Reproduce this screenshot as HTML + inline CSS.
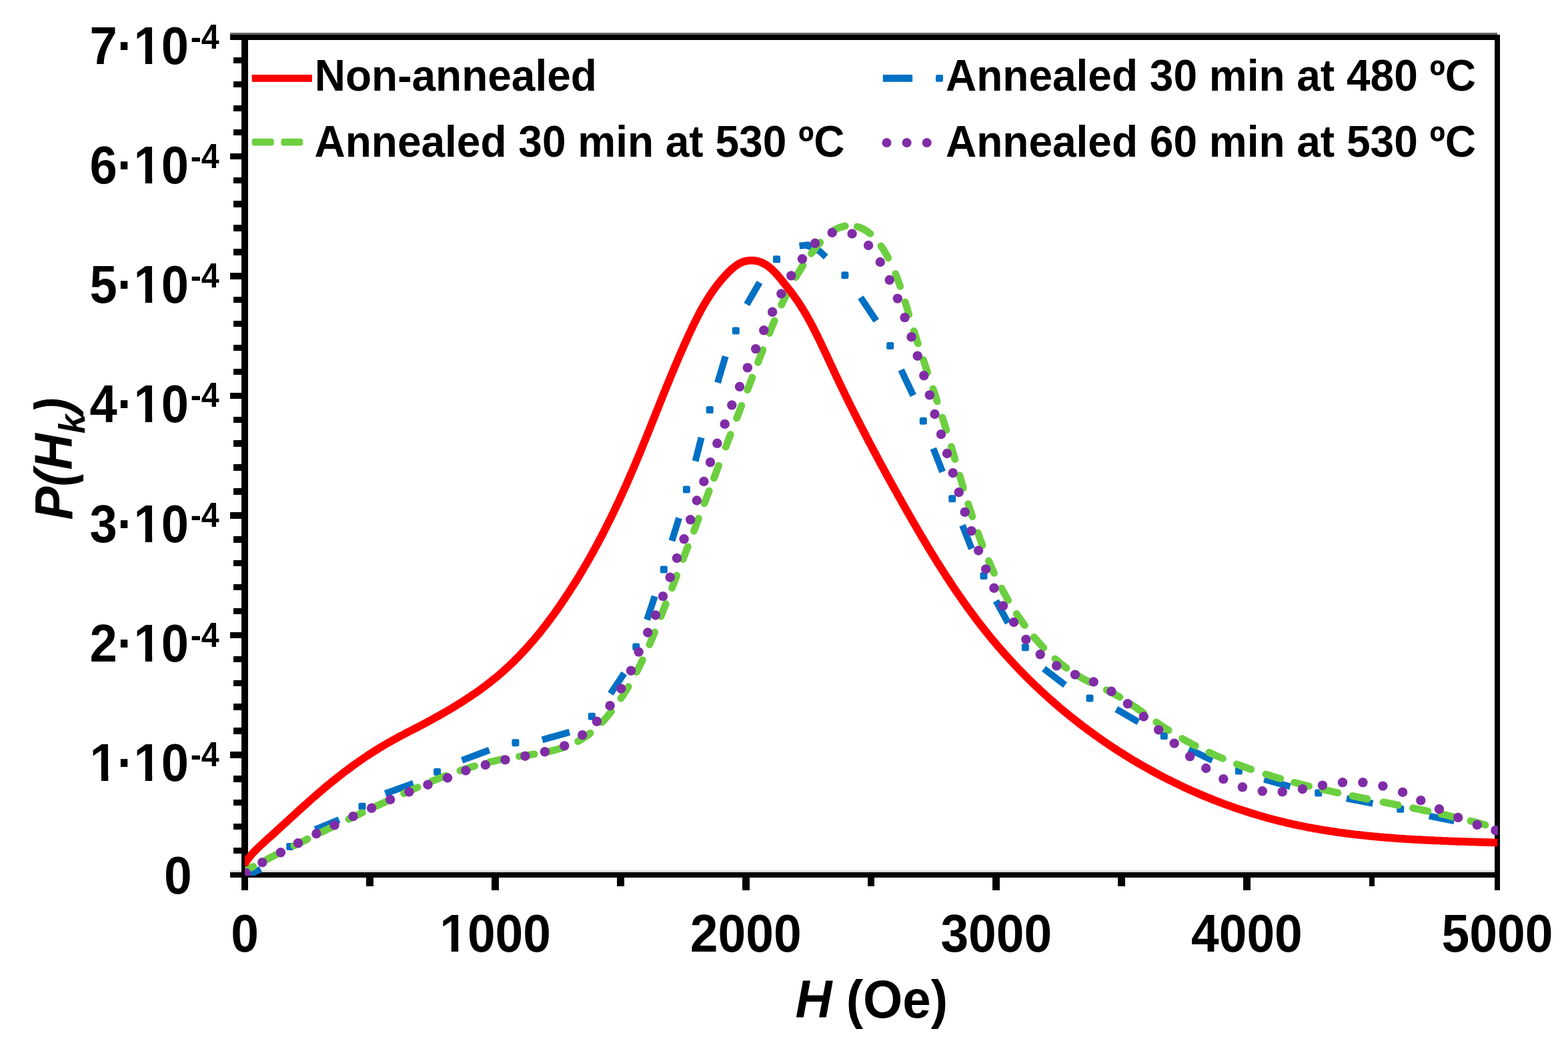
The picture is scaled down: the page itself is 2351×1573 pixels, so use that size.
<!DOCTYPE html>
<html lang="en"><head><meta charset="utf-8"><title>P(Hk) vs H</title>
<style>html,body{margin:0;padding:0;background:#fff}body{width:2351px;height:1573px;overflow:hidden}svg{display:block}text{font-family:"Liberation Sans",sans-serif;font-weight:bold;fill:#000}</style>
</head><body>
<svg width="2351" height="1573" viewBox="0 0 2351 1573">
<rect width="2351" height="1573" fill="#fff"/>
<g id="frame" fill="#000" shape-rendering="crispEdges">
<rect x="345" y="49" width="1900" height="4" fill="#666"/>
<rect x="345" y="52" width="1904" height="8"/>
<rect x="345" y="1305" width="1896" height="4" fill="#ddd"/>
<rect x="345" y="1308" width="1904" height="8"/>
<rect x="361.5" y="52" width="10.5" height="1283"/>
<rect x="2241" y="52" width="8" height="1283"/>
<rect x="350.3" y="1270.8" width="12" height="9.4"/>
<rect x="350.3" y="1234.9" width="12" height="9.4"/>
<rect x="350.3" y="1199.0" width="12" height="9.4"/>
<rect x="350.3" y="1163.1" width="12" height="9.4"/>
<rect x="350.3" y="1091.3" width="12" height="9.4"/>
<rect x="350.3" y="1055.4" width="12" height="9.4"/>
<rect x="350.3" y="1019.5" width="12" height="9.4"/>
<rect x="350.3" y="983.6" width="12" height="9.4"/>
<rect x="350.3" y="911.8" width="12" height="9.4"/>
<rect x="350.3" y="875.9" width="12" height="9.4"/>
<rect x="350.3" y="840.0" width="12" height="9.4"/>
<rect x="350.3" y="804.1" width="12" height="9.4"/>
<rect x="350.3" y="732.3" width="12" height="9.4"/>
<rect x="350.3" y="696.4" width="12" height="9.4"/>
<rect x="350.3" y="660.4" width="12" height="9.4"/>
<rect x="350.3" y="624.5" width="12" height="9.4"/>
<rect x="350.3" y="552.7" width="12" height="9.4"/>
<rect x="350.3" y="516.8" width="12" height="9.4"/>
<rect x="350.3" y="480.9" width="12" height="9.4"/>
<rect x="350.3" y="445.0" width="12" height="9.4"/>
<rect x="350.3" y="373.2" width="12" height="9.4"/>
<rect x="350.3" y="337.3" width="12" height="9.4"/>
<rect x="350.3" y="301.4" width="12" height="9.4"/>
<rect x="350.3" y="265.5" width="12" height="9.4"/>
<rect x="350.3" y="193.7" width="12" height="9.4"/>
<rect x="350.3" y="157.8" width="12" height="9.4"/>
<rect x="350.3" y="121.9" width="12" height="9.4"/>
<rect x="350.3" y="86.0" width="12" height="9.4"/>
<rect x="345" y="1127.1" width="18" height="9.6"/>
<rect x="345" y="947.6" width="18" height="9.6"/>
<rect x="345" y="768.1" width="18" height="9.6"/>
<rect x="345" y="588.5" width="18" height="9.6"/>
<rect x="345" y="409.0" width="18" height="9.6"/>
<rect x="345" y="229.5" width="18" height="9.6"/>
<rect x="549.4" y="1315" width="10.8" height="14.3"/>
<rect x="737.2" y="1315" width="10.8" height="20"/>
<rect x="925.0" y="1315" width="10.8" height="14.3"/>
<rect x="1112.8" y="1315" width="10.8" height="20"/>
<rect x="1300.6" y="1315" width="10.8" height="14.3"/>
<rect x="1488.4" y="1315" width="10.8" height="20"/>
<rect x="1676.2" y="1315" width="10.8" height="14.3"/>
<rect x="1864.0" y="1315" width="10.8" height="20"/>
<rect x="2053.0" y="1315" width="8.4" height="14.3"/>
</g>
<defs><clipPath id="plotclip"><rect x="367" y="56" width="1879" height="1257"/></clipPath></defs>
<g id="curves" fill="none" clip-path="url(#plotclip)">
<g id="blue" stroke="#0070C4" stroke-width="10" stroke-linejoin="round" fill="#0070C4">
<path d="M367.0,1314.0 L391.0,1303.5"/>
<path d="M472.6,1243.8 L508.5,1229.2"/>
<path d="M577.6,1190.0 L619.8,1174.7"/>
<path d="M692.7,1140.1 L733.7,1124.8"/>
<path d="M813.0,1109.4 L854.0,1097.9"/>
<path d="M915.4,1040.3 L935.9,1009.6"/>
<path d="M970.1,929.3 L981.8,894.1"/>
<path d="M1007.4,810.9 L1018.1,776.8"/>
<path d="M1042.6,691.5 L1051.6,656.3"/>
<path d="M1076.0,573.8 L1087.7,534.4"/>
<path d="M1119.7,456.5 L1138.9,423.5"/>
<path d="M1198.6,368.8 L1211.0,367.2 L1221.0,370.6 L1230.0,377.6 L1238.3,385.3"/>
<path d="M1290.4,445.9 L1313.8,481.0"/>
<path d="M1351.1,554.6 L1369.3,593.0"/>
<path d="M1399.3,672.5 L1413.2,707.7"/>
<path d="M1443.0,787.7 L1456.9,822.9"/>
<path d="M1493.3,901.0 L1511.5,934.0"/>
<path d="M1565.1,1002.7 L1597.0,1027.2"/>
<path d="M1673.8,1063.4 L1706.9,1082.6"/>
<path d="M1782.6,1123.2 L1817.8,1140.2"/>
<path d="M1895.4,1168.6 L1934.5,1179.5"/>
<path d="M2019.0,1197.3 L2058.4,1204.8"/>
<path d="M2142.9,1223.6 L2180.4,1231.1"/>
<rect x="429.2" y="1263.9" width="11" height="11" rx="2.5" stroke="none"/>
<rect x="537.5" y="1203.7" width="11" height="11" rx="2.5" stroke="none"/>
<rect x="650.1" y="1152.0" width="11" height="11" rx="2.5" stroke="none"/>
<rect x="767.4" y="1108.3" width="11" height="11" rx="2.5" stroke="none"/>
<rect x="881.8" y="1068.8" width="11" height="11" rx="2.5" stroke="none"/>
<rect x="948.3" y="964.4" width="11" height="11" rx="2.5" stroke="none"/>
<rect x="989.8" y="848.5" width="11" height="11" rx="2.5" stroke="none"/>
<rect x="1023.9" y="728.6" width="11" height="11" rx="2.5" stroke="none"/>
<rect x="1058.7" y="608.9" width="11" height="11" rx="2.5" stroke="none"/>
<rect x="1097.8" y="490.5" width="11" height="11" rx="2.5" stroke="none"/>
<rect x="1159.0" y="383.2" width="11" height="11" rx="2.5" stroke="none"/>
<rect x="1261.4" y="407.3" width="11" height="11" rx="2.5" stroke="none"/>
<rect x="1329.2" y="512.9" width="11" height="11" rx="2.5" stroke="none"/>
<rect x="1378.8" y="625.8" width="11" height="11" rx="2.5" stroke="none"/>
<rect x="1422.2" y="742.3" width="11" height="11" rx="2.5" stroke="none"/>
<rect x="1469.5" y="857.9" width="11" height="11" rx="2.5" stroke="none"/>
<rect x="1531.8" y="965.2" width="11" height="11" rx="2.5" stroke="none"/>
<rect x="1628.5" y="1041.5" width="11" height="11" rx="2.5" stroke="none"/>
<rect x="1739.8" y="1098.0" width="11" height="11" rx="2.5" stroke="none"/>
<rect x="1851.9" y="1150.6" width="11" height="11" rx="2.5" stroke="none"/>
<rect x="1971.2" y="1183.4" width="11" height="11" rx="2.5" stroke="none"/>
<rect x="2094.2" y="1207.8" width="11" height="11" rx="2.5" stroke="none"/>
</g>
<g id="green" stroke="#6CCF40" stroke-width="10.8" stroke-linecap="round">
<path d="M367.6,1305.7 L368.4,1305.3 L373.5,1302.6 L378.7,1299.9 L379.7,1299.4"/>
<path d="M400.2,1288.7 L400.9,1288.4 L406.0,1285.8 L411.1,1283.1 L416.3,1280.5 L420.3,1278.5"/>
<path d="M440.9,1268.1 L441.2,1268.0 L446.4,1265.4 L451.6,1262.8 L456.8,1260.3 L461.1,1258.1"/>
<path d="M481.8,1248.0 L481.9,1248.0 L487.1,1245.4 L492.3,1242.9 L497.5,1240.4 L502.1,1238.2"/>
<path d="M522.9,1228.3 L523.6,1227.9 L528.9,1225.4 L534.1,1223.0 L539.3,1220.5 L543.3,1218.6"/>
<path d="M564.2,1208.9 L564.7,1208.6 L569.9,1206.2 L575.1,1203.8 L580.4,1201.3 L584.6,1199.4"/>
<path d="M605.5,1189.8 L605.8,1189.7 L611.0,1187.3 L616.3,1184.9 L621.6,1182.6 L626.2,1180.6"/>
<path d="M647.3,1171.6 L648.1,1171.3 L653.4,1169.1 L658.8,1167.0 L664.2,1164.9 L668.4,1163.3"/>
<path d="M689.9,1155.5 L690.3,1155.4 L695.8,1153.6 L701.3,1151.8 L706.8,1150.1 L711.7,1148.7"/>
<path d="M733.6,1142.8 L733.8,1142.7 L739.4,1141.4 L745.1,1140.2 L750.8,1139.0 L756.0,1138.0"/>
<path d="M778.4,1134.3 L778.8,1134.2 L784.6,1133.4 L790.4,1132.5 L796.2,1131.6 L801.1,1130.9"/>
<path d="M823.4,1126.7 L823.9,1126.6 L829.5,1125.3 L835.0,1123.9 L840.5,1122.3 L845.4,1120.7"/>
<path d="M866.6,1111.7 L867.3,1111.3 L872.2,1108.5 L876.9,1105.4 L881.6,1102.1 L885.1,1099.4"/>
<path d="M902.5,1083.2 L903.0,1082.7 L907.0,1078.4 L910.8,1073.9 L914.6,1069.4 L916.5,1067.0"/>
<path d="M931.0,1047.3 L931.3,1046.8 L934.5,1042.0 L937.6,1037.1 L940.7,1032.2 L942.2,1029.7"/>
<path d="M954.3,1007.9 L954.7,1007.2 L957.3,1002.0 L959.9,996.9 L962.4,991.7 L963.4,989.6"/>
<path d="M973.8,966.6 L973.9,966.4 L976.1,961.1 L978.4,955.8 L980.5,950.4 L981.6,947.9"/>
<path d="M991.0,924.3 L991.2,923.6 L993.3,918.2 L995.4,912.8 L997.5,907.4 L998.3,905.5"/>
<path d="M1007.5,881.8 L1007.6,881.4 L1009.7,876.0 L1011.8,870.6 L1013.9,865.2 L1014.7,863.0"/>
<path d="M1024.1,838.6 L1024.2,838.2 L1026.3,832.8 L1028.4,827.4 L1030.4,822.0 L1031.3,819.8"/>
<path d="M1040.3,796.3 L1040.4,795.9 L1042.5,790.5 L1044.6,785.1 L1046.6,779.7 L1047.4,777.5"/>
<path d="M1056.1,754.9 L1056.2,754.5 L1058.3,749.1 L1060.3,743.7 L1062.4,738.3 L1063.2,736.1"/>
<path d="M1070.4,717.0 L1070.6,716.6 L1072.6,711.2 L1074.7,705.8 L1076.8,700.4 L1077.6,698.2"/>
<path d="M1088.2,670.2 L1088.4,669.8 L1090.4,664.4 L1092.5,659.0 L1094.5,653.6 L1095.4,651.4"/>
<path d="M1104.6,627.0 L1104.8,626.6 L1106.9,621.2 L1108.9,615.8 L1111.0,610.4 L1111.8,608.2"/>
<path d="M1120.7,584.7 L1120.9,584.3 L1123.0,578.9 L1125.0,573.6 L1127.1,568.2 L1127.9,566.0"/>
<path d="M1136.5,543.4 L1136.7,543.0 L1138.8,537.6 L1140.8,532.2 L1142.9,526.9 L1143.8,524.6"/>
<path d="M1153.6,499.6 L1153.7,499.1 L1155.9,493.8 L1158.1,488.4 L1160.3,483.1 L1161.2,480.9"/>
<path d="M1171.7,457.2 L1171.9,456.6 L1174.4,451.4 L1176.9,446.2 L1179.5,441.0 L1180.6,438.7"/>
<path d="M1193.1,415.8 L1193.4,415.3 L1196.4,410.2 L1199.5,405.2 L1202.6,400.2 L1204.0,398.1"/>
<path d="M1216.5,380.2 L1216.9,379.7 L1220.5,374.9 L1224.3,370.1 L1228.2,365.5 L1229.9,363.5"/>
<path d="M1246.6,348.0 L1247.1,347.6 L1251.7,344.7 L1256.3,342.2 L1261.1,340.4 L1266.1,339.1 L1267.1,338.9"/>
<path d="M1285.3,339.9 L1286.2,340.1 L1291.0,341.8 L1295.7,344.1 L1300.2,346.9 L1304.5,350.2 L1304.9,350.5"/>
<path d="M1321.1,368.9 L1321.1,369.0 L1324.5,374.1 L1327.7,379.5 L1330.8,385.0 L1331.7,386.8"/>
<path d="M1342.7,410.6 L1343.0,411.5 L1345.3,417.2 L1347.4,422.8 L1349.3,428.4 L1349.7,429.4"/>
<path d="M1357.2,452.9 L1357.3,453.2 L1359.0,458.7 L1360.6,464.2 L1362.2,469.6 L1362.8,471.8"/>
<path d="M1370.3,496.3 L1370.4,496.7 L1372.2,502.1 L1373.9,507.5 L1375.6,513.0 L1376.4,515.2"/>
<path d="M1384.4,539.5 L1384.5,540.0 L1386.3,545.4 L1388.1,550.8 L1390.0,556.2 L1390.7,558.4"/>
<path d="M1398.9,583.0 L1399.1,583.4 L1400.9,588.8 L1402.7,594.3 L1404.5,599.7 L1405.2,601.9"/>
<path d="M1413.0,626.0 L1413.1,626.3 L1414.8,631.8 L1416.5,637.4 L1418.2,642.9 L1418.9,645.0"/>
<path d="M1426.3,669.7 L1426.3,669.9 L1428.0,675.5 L1429.6,681.1 L1431.2,686.7 L1431.8,688.7"/>
<path d="M1438.9,712.8 L1438.9,712.9 L1440.6,718.6 L1442.2,724.2 L1443.9,729.8 L1444.5,731.8"/>
<path d="M1451.8,755.7 L1451.9,755.9 L1453.6,761.5 L1455.4,767.0 L1457.2,772.6 L1457.9,774.6"/>
<path d="M1466.1,798.9 L1466.3,799.2 L1468.2,804.7 L1470.2,810.1 L1472.2,815.5 L1473.1,817.7"/>
<path d="M1482.4,840.9 L1482.6,841.4 L1484.9,846.7 L1487.2,851.9 L1489.5,857.2 L1490.6,859.4"/>
<path d="M1501.7,882.1 L1502.1,882.8 L1504.8,887.9 L1507.5,892.9 L1510.3,897.8 L1511.7,900.2"/>
<path d="M1524.2,920.4 L1524.2,920.4 L1527.4,925.2 L1530.7,929.9 L1534.0,934.5 L1536.3,937.6"/>
<path d="M1550.4,955.4 L1550.5,955.6 L1554.3,959.9 L1558.1,964.2 L1562.0,968.5 L1564.8,971.4"/>
<path d="M1582.0,987.9 L1582.2,988.1 L1586.7,991.9 L1591.2,995.6 L1595.8,999.3 L1599.1,1001.8"/>
<path d="M1614.4,1012.2 L1614.9,1012.5 L1619.9,1015.4 L1624.9,1018.3 L1630.1,1021.0 L1634.1,1022.9"/>
<path d="M1659.1,1034.7 L1659.7,1035.0 L1664.9,1037.6 L1670.0,1040.2 L1675.0,1043.0 L1678.9,1045.3"/>
<path d="M1696.6,1056.6 L1697.0,1056.9 L1701.8,1060.1 L1706.5,1063.5 L1711.3,1066.8 L1714.8,1069.3"/>
<path d="M1733.7,1082.8 L1734.1,1083.1 L1738.9,1086.4 L1743.7,1089.7 L1748.5,1092.9 L1752.2,1095.2"/>
<path d="M1772.6,1107.5 L1773.2,1107.9 L1778.2,1110.7 L1783.3,1113.5 L1788.4,1116.2 L1792.4,1118.3"/>
<path d="M1812.7,1128.2 L1813.4,1128.5 L1818.6,1130.9 L1823.9,1133.3 L1829.2,1135.6 L1833.4,1137.4"/>
<path d="M1854.3,1145.8 L1855.0,1146.1 L1860.4,1148.1 L1865.9,1150.1 L1871.3,1152.1 L1875.7,1153.6"/>
<path d="M1897.9,1161.0 L1898.7,1161.2 L1904.2,1162.9 L1909.8,1164.6 L1915.3,1166.3 L1919.8,1167.6"/>
<path d="M1940.4,1173.3 L1941.3,1173.5 L1946.8,1174.9 L1952.4,1176.4 L1958.0,1177.8 L1962.6,1178.9"/>
<path d="M1983.4,1183.9 L1984.2,1184.0 L1989.9,1185.3 L1995.5,1186.6 L2001.2,1187.8 L2005.8,1188.8"/>
<path d="M2027.7,1193.5 L2028.5,1193.6 L2034.2,1194.8 L2039.8,1196.0 L2045.5,1197.1 L2050.1,1198.1"/>
<path d="M2074.0,1202.8 L2074.8,1203.0 L2080.5,1204.1 L2086.2,1205.2 L2091.8,1206.4 L2096.5,1207.3"/>
<path d="M2118.4,1211.7 L2119.3,1211.9 L2124.9,1213.0 L2130.6,1214.2 L2136.3,1215.4 L2140.9,1216.3"/>
<path d="M2160.9,1220.7 L2161.7,1220.8 L2167.3,1222.1 L2173.0,1223.4 L2178.6,1224.7 L2183.2,1225.7"/>
<path d="M2204.9,1231.0 L2205.7,1231.3 L2211.3,1232.7 L2216.9,1234.2 L2222.5,1235.6 L2227.0,1236.9"/>
</g>
<g id="purple" fill="#802CA7">
<circle cx="369.0" cy="1309.0" r="7.2"/>
<circle cx="393.3" cy="1293.2" r="7.2"/>
<circle cx="420.9" cy="1278.3" r="7.2"/>
<circle cx="447.0" cy="1264.3" r="7.2"/>
<circle cx="474.4" cy="1250.2" r="7.2"/>
<circle cx="501.5" cy="1237.4" r="7.2"/>
<circle cx="529.4" cy="1224.1" r="7.2"/>
<circle cx="557.1" cy="1211.8" r="7.2"/>
<circle cx="585.2" cy="1199.0" r="7.2"/>
<circle cx="613.4" cy="1187.5" r="7.2"/>
<circle cx="641.5" cy="1176.7" r="7.2"/>
<circle cx="671.0" cy="1166.5" r="7.2"/>
<circle cx="698.4" cy="1155.5" r="7.2"/>
<circle cx="727.8" cy="1147.0" r="7.2"/>
<circle cx="757.5" cy="1139.4" r="7.2"/>
<circle cx="787.4" cy="1133.7" r="7.2"/>
<circle cx="816.9" cy="1127.3" r="7.2"/>
<circle cx="846.3" cy="1118.4" r="7.2"/>
<circle cx="873.2" cy="1102.2" r="7.2"/>
<circle cx="894.9" cy="1081.8" r="7.2"/>
<circle cx="914.6" cy="1058.2" r="7.2"/>
<circle cx="931.3" cy="1032.6" r="7.2"/>
<circle cx="946.1" cy="1005.7" r="7.2"/>
<circle cx="957.7" cy="977.6" r="7.2"/>
<circle cx="971.2" cy="948.5" r="7.2"/>
<circle cx="982.9" cy="922.5" r="7.2"/>
<circle cx="994.0" cy="894.1" r="7.2"/>
<circle cx="1004.7" cy="865.7" r="7.2"/>
<circle cx="1014.9" cy="836.9" r="7.2"/>
<circle cx="1025.6" cy="808.3" r="7.2"/>
<circle cx="1035.2" cy="779.3" r="7.2"/>
<circle cx="1044.8" cy="750.5" r="7.2"/>
<circle cx="1055.4" cy="722.0" r="7.2"/>
<circle cx="1065.0" cy="693.2" r="7.2"/>
<circle cx="1075.3" cy="664.8" r="7.2"/>
<circle cx="1086.7" cy="635.9" r="7.2"/>
<circle cx="1097.3" cy="607.5" r="7.2"/>
<circle cx="1109.0" cy="579.8" r="7.2"/>
<circle cx="1120.8" cy="551.4" r="7.2"/>
<circle cx="1133.1" cy="523.1" r="7.2"/>
<circle cx="1145.3" cy="495.3" r="7.2"/>
<circle cx="1158.1" cy="467.8" r="7.2"/>
<circle cx="1171.3" cy="440.5" r="7.2"/>
<circle cx="1186.3" cy="413.4" r="7.2"/>
<circle cx="1202.9" cy="388.3" r="7.2"/>
<circle cx="1222.1" cy="364.8" r="7.2"/>
<circle cx="1247.7" cy="348.8" r="7.2"/>
<circle cx="1277.6" cy="350.5" r="7.2"/>
<circle cx="1302.1" cy="368.0" r="7.2"/>
<circle cx="1319.8" cy="393.0" r="7.2"/>
<circle cx="1333.7" cy="419.8" r="7.2"/>
<circle cx="1345.8" cy="447.6" r="7.2"/>
<circle cx="1356.5" cy="476.1" r="7.2"/>
<circle cx="1366.5" cy="505.2" r="7.2"/>
<circle cx="1375.7" cy="533.7" r="7.2"/>
<circle cx="1385.3" cy="563.2" r="7.2"/>
<circle cx="1393.8" cy="592.4" r="7.2"/>
<circle cx="1401.5" cy="621.0" r="7.2"/>
<circle cx="1411.0" cy="651.2" r="7.2"/>
<circle cx="1420.0" cy="680.0" r="7.2"/>
<circle cx="1428.8" cy="709.2" r="7.2"/>
<circle cx="1437.7" cy="738.2" r="7.2"/>
<circle cx="1446.7" cy="767.9" r="7.2"/>
<circle cx="1456.5" cy="796.2" r="7.2"/>
<circle cx="1467.1" cy="825.5" r="7.2"/>
<circle cx="1478.2" cy="853.4" r="7.2"/>
<circle cx="1490.4" cy="881.8" r="7.2"/>
<circle cx="1504.0" cy="908.5" r="7.2"/>
<circle cx="1520.0" cy="933.0" r="7.2"/>
<circle cx="1538.4" cy="958.9" r="7.2"/>
<circle cx="1559.7" cy="981.3" r="7.2"/>
<circle cx="1584.2" cy="998.4" r="7.2"/>
<circle cx="1612.0" cy="1011.6" r="7.2"/>
<circle cx="1639.7" cy="1022.5" r="7.2"/>
<circle cx="1666.4" cy="1036.8" r="7.2"/>
<circle cx="1690.9" cy="1055.3" r="7.2"/>
<circle cx="1714.8" cy="1074.5" r="7.2"/>
<circle cx="1737.2" cy="1094.4" r="7.2"/>
<circle cx="1760.7" cy="1114.6" r="7.2"/>
<circle cx="1784.1" cy="1134.3" r="7.2"/>
<circle cx="1808.2" cy="1152.0" r="7.2"/>
<circle cx="1834.3" cy="1168.1" r="7.2"/>
<circle cx="1862.9" cy="1180.3" r="7.2"/>
<circle cx="1892.8" cy="1186.3" r="7.2"/>
<circle cx="1922.7" cy="1187.4" r="7.2"/>
<circle cx="1952.9" cy="1183.2" r="7.2"/>
<circle cx="1982.9" cy="1177.6" r="7.2"/>
<circle cx="2013.0" cy="1173.3" r="7.2"/>
<circle cx="2043.4" cy="1173.3" r="7.2"/>
<circle cx="2073.4" cy="1178.6" r="7.2"/>
<circle cx="2103.1" cy="1187.9" r="7.2"/>
<circle cx="2130.3" cy="1200.1" r="7.2"/>
<circle cx="2157.9" cy="1213.3" r="7.2"/>
<circle cx="2186.1" cy="1225.9" r="7.2"/>
<circle cx="2214.8" cy="1236.8" r="7.2"/>
<circle cx="2242.4" cy="1245.2" r="7.2"/>
</g>
<path id="red" d="M366.1,1296.6 L368.3,1293.2 L370.5,1289.8 L372.9,1286.7 L375.4,1283.6 L377.9,1280.6 L380.6,1277.7 L383.3,1274.9 L386.1,1272.1 L388.9,1269.4 L391.8,1266.7 L394.7,1264.1 L397.6,1261.5 L400.5,1258.8 L403.4,1256.2 L406.4,1253.6 L409.3,1250.9 L412.2,1248.3 L415.1,1245.7 L418.0,1243.0 L420.9,1240.3 L423.8,1237.7 L426.7,1235.0 L429.6,1232.4 L432.5,1229.7 L435.4,1227.0 L438.3,1224.4 L441.2,1221.7 L444.1,1219.1 L447.0,1216.4 L449.9,1213.8 L452.8,1211.1 L455.8,1208.5 L458.7,1205.9 L461.6,1203.2 L464.6,1200.6 L467.5,1198.0 L470.5,1195.4 L473.4,1192.8 L476.4,1190.2 L479.4,1187.7 L482.4,1185.1 L485.4,1182.6 L488.4,1180.0 L491.4,1177.5 L494.5,1175.0 L497.5,1172.5 L500.6,1170.1 L503.7,1167.6 L506.8,1165.2 L509.9,1162.7 L513.0,1160.3 L516.1,1157.9 L519.2,1155.6 L522.4,1153.2 L525.6,1150.9 L528.7,1148.5 L531.9,1146.2 L535.1,1144.0 L538.3,1141.7 L541.6,1139.5 L544.8,1137.2 L548.1,1135.0 L551.3,1132.9 L554.6,1130.7 L557.9,1128.6 L561.2,1126.4 L564.6,1124.4 L567.9,1122.3 L571.3,1120.2 L574.6,1118.2 L578.0,1116.2 L581.4,1114.2 L584.8,1112.3 L588.3,1110.4 L591.7,1108.5 L595.2,1106.6 L598.6,1104.7 L602.1,1102.9 L605.6,1101.1 L609.1,1099.2 L612.6,1097.4 L616.1,1095.6 L619.6,1093.8 L623.1,1092.0 L626.6,1090.2 L630.1,1088.4 L633.6,1086.5 L637.1,1084.7 L640.5,1082.8 L644.0,1080.9 L647.5,1079.1 L650.9,1077.2 L654.4,1075.2 L657.8,1073.3 L661.3,1071.4 L664.7,1069.4 L668.1,1067.5 L671.5,1065.5 L674.9,1063.5 L678.3,1061.4 L681.7,1059.4 L685.0,1057.3 L688.4,1055.3 L691.7,1053.2 L695.0,1051.1 L698.3,1048.9 L701.6,1046.8 L704.9,1044.6 L708.1,1042.4 L711.4,1040.2 L714.6,1037.9 L717.8,1035.7 L721.0,1033.4 L724.1,1031.1 L727.3,1028.7 L730.4,1026.4 L733.5,1024.0 L736.6,1021.6 L739.6,1019.1 L742.7,1016.7 L745.7,1014.2 L748.7,1011.7 L751.6,1009.1 L754.6,1006.5 L757.5,1003.9 L760.4,1001.3 L763.2,998.6 L766.1,995.9 L768.9,993.2 L771.7,990.5 L774.5,987.7 L777.2,984.9 L779.9,982.1 L782.6,979.3 L785.3,976.4 L788.0,973.5 L790.6,970.6 L793.2,967.7 L795.8,964.7 L798.4,961.7 L801.0,958.8 L803.5,955.7 L806.0,952.7 L808.5,949.7 L811.0,946.6 L813.4,943.5 L815.8,940.4 L818.3,937.3 L820.7,934.2 L823.0,931.0 L825.4,927.9 L827.7,924.7 L830.1,921.5 L832.4,918.3 L834.6,915.1 L836.9,911.9 L839.2,908.6 L841.4,905.4 L843.6,902.1 L845.8,898.9 L848.0,895.6 L850.2,892.3 L852.4,889.0 L854.5,885.7 L856.6,882.4 L858.7,879.1 L860.8,875.8 L862.9,872.5 L865.0,869.1 L867.1,865.8 L869.1,862.4 L871.1,859.1 L873.1,855.7 L875.1,852.3 L877.1,848.9 L879.1,845.5 L881.1,842.1 L883.0,838.7 L884.9,835.3 L886.8,831.9 L888.8,828.5 L890.6,825.0 L892.5,821.6 L894.4,818.1 L896.3,814.7 L898.1,811.2 L899.9,807.7 L901.8,804.3 L903.6,800.8 L905.4,797.3 L907.2,793.8 L908.9,790.3 L910.7,786.8 L912.4,783.3 L914.2,779.8 L915.9,776.3 L917.6,772.7 L919.4,769.2 L921.1,765.7 L922.8,762.1 L924.4,758.6 L926.1,755.0 L927.8,751.5 L929.4,747.9 L931.1,744.3 L932.7,740.8 L934.3,737.2 L935.9,733.6 L937.6,730.0 L939.2,726.4 L940.7,722.8 L942.3,719.2 L943.9,715.6 L945.5,712.0 L947.0,708.4 L948.6,704.8 L950.1,701.2 L951.7,697.6 L953.2,693.9 L954.7,690.3 L956.2,686.7 L957.8,683.0 L959.3,679.4 L960.8,675.8 L962.3,672.1 L963.8,668.5 L965.2,664.8 L966.7,661.2 L968.2,657.6 L969.7,653.9 L971.2,650.3 L972.6,646.6 L974.1,642.9 L975.6,639.3 L977.0,635.6 L978.5,632.0 L979.9,628.3 L981.4,624.7 L982.9,621.0 L984.3,617.4 L985.8,613.7 L987.3,610.0 L988.7,606.4 L990.2,602.7 L991.7,599.1 L993.1,595.4 L994.6,591.8 L996.1,588.1 L997.5,584.5 L999.0,580.8 L1000.5,577.2 L1002.0,573.5 L1003.5,569.9 L1005.0,566.3 L1006.5,562.6 L1008.0,559.0 L1009.5,555.4 L1011.0,551.7 L1012.6,548.1 L1014.1,544.5 L1015.6,540.9 L1017.2,537.2 L1018.7,533.6 L1020.3,530.0 L1021.9,526.4 L1023.5,522.8 L1025.0,519.2 L1026.6,515.6 L1028.3,512.1 L1029.9,508.5 L1031.5,504.9 L1033.1,501.3 L1034.8,497.8 L1036.5,494.2 L1038.1,490.7 L1039.8,487.1 L1041.6,483.6 L1043.3,480.1 L1045.1,476.6 L1046.9,473.1 L1048.7,469.6 L1050.5,466.1 L1052.4,462.7 L1054.3,459.3 L1056.3,455.9 L1058.3,452.5 L1060.3,449.2 L1062.4,445.9 L1064.6,442.6 L1066.7,439.3 L1069.0,436.1 L1071.3,432.9 L1073.6,429.7 L1076.0,426.6 L1078.5,423.5 L1081.0,420.4 L1083.6,417.4 L1086.3,414.4 L1089.0,411.5 L1091.8,408.6 L1094.7,405.8 L1097.6,403.0 L1100.7,400.5 L1103.8,398.1 L1107.1,396.0 L1110.5,394.2 L1114.0,392.7 L1117.6,391.6 L1121.4,390.9 L1125.2,390.5 L1129.0,390.6 L1132.9,391.0 L1136.6,391.8 L1140.3,393.0 L1143.8,394.5 L1147.2,396.3 L1150.5,398.4 L1153.6,400.8 L1156.7,403.3 L1159.6,406.1 L1162.4,409.0 L1165.2,412.0 L1167.9,415.2 L1170.5,418.3 L1173.1,421.5 L1175.6,424.7 L1178.1,427.8 L1180.6,430.9 L1183.0,434.0 L1185.4,437.0 L1187.7,440.1 L1190.0,443.2 L1192.2,446.3 L1194.5,449.4 L1196.6,452.6 L1198.8,455.8 L1200.9,459.1 L1202.9,462.4 L1205.0,465.7 L1207.0,469.1 L1209.0,472.5 L1210.9,475.9 L1212.8,479.3 L1214.7,482.8 L1216.6,486.3 L1218.4,489.8 L1220.2,493.3 L1222.0,496.8 L1223.8,500.4 L1225.5,503.9 L1227.3,507.5 L1229.0,511.0 L1230.7,514.6 L1232.4,518.2 L1234.1,521.7 L1235.8,525.3 L1237.5,528.9 L1239.2,532.4 L1240.8,536.0 L1242.5,539.6 L1244.1,543.1 L1245.8,546.7 L1247.5,550.3 L1249.1,553.8 L1250.8,557.4 L1252.5,561.0 L1254.1,564.5 L1255.8,568.1 L1257.5,571.6 L1259.2,575.2 L1260.9,578.7 L1262.6,582.3 L1264.3,585.8 L1266.0,589.3 L1267.7,592.9 L1269.5,596.4 L1271.2,599.9 L1272.9,603.5 L1274.7,607.0 L1276.4,610.5 L1278.2,614.0 L1279.9,617.5 L1281.7,621.0 L1283.5,624.5 L1285.2,628.0 L1287.0,631.5 L1288.8,635.0 L1290.6,638.5 L1292.4,642.0 L1294.2,645.5 L1296.0,649.0 L1297.8,652.5 L1299.6,656.0 L1301.4,659.5 L1303.2,663.0 L1305.1,666.4 L1306.9,669.9 L1308.7,673.4 L1310.6,676.9 L1312.4,680.3 L1314.3,683.8 L1316.1,687.3 L1318.0,690.7 L1319.9,694.2 L1321.7,697.7 L1323.6,701.1 L1325.5,704.6 L1327.4,708.0 L1329.2,711.5 L1331.1,714.9 L1333.0,718.4 L1334.9,721.8 L1336.8,725.3 L1338.7,728.7 L1340.6,732.2 L1342.6,735.6 L1344.5,739.0 L1346.4,742.5 L1348.3,745.9 L1350.3,749.3 L1352.2,752.8 L1354.1,756.2 L1356.1,759.6 L1358.0,763.1 L1360.0,766.5 L1361.9,769.9 L1363.9,773.4 L1365.8,776.8 L1367.8,780.2 L1369.8,783.6 L1371.8,787.0 L1373.7,790.4 L1375.7,793.9 L1377.7,797.3 L1379.7,800.7 L1381.7,804.1 L1383.7,807.5 L1385.8,810.8 L1387.8,814.2 L1389.8,817.6 L1391.8,821.0 L1393.9,824.4 L1395.9,827.7 L1398.0,831.1 L1400.1,834.5 L1402.1,837.8 L1404.2,841.2 L1406.3,844.5 L1408.4,847.9 L1410.5,851.2 L1412.6,854.5 L1414.8,857.8 L1416.9,861.2 L1419.0,864.5 L1421.2,867.8 L1423.4,871.1 L1425.5,874.4 L1427.7,877.6 L1429.9,880.9 L1432.1,884.2 L1434.3,887.4 L1436.5,890.7 L1438.8,893.9 L1441.0,897.1 L1443.3,900.4 L1445.6,903.6 L1447.8,906.8 L1450.1,910.0 L1452.4,913.2 L1454.7,916.3 L1457.1,919.5 L1459.4,922.7 L1461.8,925.8 L1464.1,929.0 L1466.5,932.1 L1468.9,935.2 L1471.3,938.3 L1473.7,941.4 L1476.2,944.5 L1478.6,947.6 L1481.1,950.6 L1483.5,953.7 L1486.0,956.7 L1488.5,959.7 L1491.1,962.8 L1493.6,965.8 L1496.1,968.8 L1498.7,971.7 L1501.3,974.7 L1503.9,977.7 L1506.5,980.6 L1509.1,983.5 L1511.7,986.4 L1514.4,989.3 L1517.0,992.2 L1519.7,995.1 L1522.4,998.0 L1525.1,1000.8 L1527.8,1003.7 L1530.6,1006.5 L1533.3,1009.3 L1536.1,1012.1 L1538.8,1014.9 L1541.6,1017.7 L1544.4,1020.4 L1547.2,1023.2 L1550.1,1025.9 L1552.9,1028.6 L1555.8,1031.3 L1558.6,1034.0 L1561.5,1036.7 L1564.4,1039.4 L1567.3,1042.0 L1570.2,1044.7 L1573.2,1047.3 L1576.1,1049.9 L1579.1,1052.5 L1582.0,1055.1 L1585.0,1057.7 L1588.0,1060.2 L1591.0,1062.8 L1594.0,1065.3 L1597.0,1067.8 L1600.1,1070.3 L1603.1,1072.8 L1606.2,1075.3 L1609.3,1077.7 L1612.4,1080.1 L1615.5,1082.6 L1618.6,1085.0 L1621.7,1087.4 L1624.8,1089.8 L1628.0,1092.1 L1631.1,1094.5 L1634.3,1096.8 L1637.5,1099.1 L1640.7,1101.5 L1643.9,1103.8 L1647.1,1106.0 L1650.3,1108.3 L1653.5,1110.5 L1656.8,1112.8 L1660.0,1115.0 L1663.3,1117.2 L1666.5,1119.4 L1669.8,1121.5 L1673.1,1123.7 L1676.4,1125.8 L1679.7,1128.0 L1683.1,1130.1 L1686.4,1132.2 L1689.7,1134.2 L1693.1,1136.3 L1696.5,1138.4 L1699.8,1140.4 L1703.2,1142.4 L1706.6,1144.4 L1710.0,1146.4 L1713.4,1148.3 L1716.8,1150.3 L1720.3,1152.2 L1723.7,1154.1 L1727.2,1156.0 L1730.6,1157.9 L1734.1,1159.8 L1737.6,1161.6 L1741.0,1163.5 L1744.5,1165.3 L1748.0,1167.1 L1751.5,1168.9 L1755.1,1170.6 L1758.6,1172.4 L1762.1,1174.1 L1765.7,1175.8 L1769.2,1177.5 L1772.8,1179.2 L1776.3,1180.9 L1779.9,1182.5 L1783.5,1184.1 L1787.1,1185.8 L1790.7,1187.3 L1794.3,1188.9 L1797.9,1190.5 L1801.5,1192.0 L1805.1,1193.5 L1808.8,1195.1 L1812.4,1196.5 L1816.1,1198.0 L1819.7,1199.5 L1823.4,1200.9 L1827.1,1202.3 L1830.7,1203.7 L1834.4,1205.1 L1838.1,1206.5 L1841.8,1207.8 L1845.5,1209.1 L1849.2,1210.4 L1852.9,1211.7 L1856.6,1213.0 L1860.4,1214.3 L1864.1,1215.5 L1867.9,1216.7 L1871.6,1217.9 L1875.4,1219.1 L1879.1,1220.2 L1882.9,1221.4 L1886.6,1222.5 L1890.4,1223.6 L1894.2,1224.7 L1898.0,1225.8 L1901.8,1226.8 L1905.6,1227.8 L1909.4,1228.8 L1913.2,1229.8 L1917.0,1230.8 L1920.8,1231.7 L1924.7,1232.7 L1928.5,1233.6 L1932.3,1234.5 L1936.2,1235.4 L1940.0,1236.2 L1943.8,1237.0 L1947.7,1237.9 L1951.6,1238.6 L1955.4,1239.4 L1959.3,1240.2 L1963.1,1240.9 L1967.0,1241.6 L1970.9,1242.4 L1974.8,1243.0 L1978.7,1243.7 L1982.5,1244.4 L1986.4,1245.0 L1990.3,1245.6 L1994.2,1246.2 L1998.1,1246.8 L2002.0,1247.4 L2005.9,1248.0 L2009.8,1248.5 L2013.8,1249.0 L2017.7,1249.6 L2021.6,1250.1 L2025.5,1250.6 L2029.4,1251.0 L2033.3,1251.5 L2037.3,1251.9 L2041.2,1252.4 L2045.1,1252.8 L2049.1,1253.2 L2053.0,1253.6 L2056.9,1254.0 L2060.9,1254.4 L2064.8,1254.7 L2068.7,1255.1 L2072.7,1255.4 L2076.6,1255.8 L2080.5,1256.1 L2084.5,1256.4 L2088.4,1256.7 L2092.4,1257.0 L2096.3,1257.3 L2100.2,1257.5 L2104.2,1257.8 L2108.1,1258.1 L2112.1,1258.3 L2116.0,1258.5 L2120.0,1258.8 L2123.9,1259.0 L2127.8,1259.2 L2131.8,1259.4 L2135.7,1259.6 L2139.7,1259.8 L2143.6,1260.0 L2147.5,1260.2 L2151.5,1260.4 L2155.4,1260.5 L2159.3,1260.7 L2163.3,1260.9 L2167.2,1261.0 L2171.1,1261.2 L2175.0,1261.3 L2179.0,1261.5 L2182.9,1261.6 L2186.8,1261.8 L2190.7,1261.9 L2194.6,1262.0 L2198.6,1262.2 L2202.5,1262.3 L2206.4,1262.4 L2210.3,1262.5 L2214.2,1262.7 L2218.1,1262.8 L2222.0,1262.9 L2225.9,1263.0 L2229.8,1263.1 L2233.7,1263.2 L2237.5,1263.4 L2241.4,1263.5 L2245.3,1263.6" stroke="#FF0000" stroke-width="11.7" stroke-linejoin="round"/>
</g>
<g id="legend">
<rect x="377.7" y="112" width="90.2" height="10.8" fill="#FF0000"/>
<rect x="377.7" y="207.7" width="33" height="10.8" rx="4" fill="#6CCF40"/>
<rect x="421.3" y="207.7" width="33" height="10.8" rx="4" fill="#6CCF40"/>
<rect x="1323.8" y="112" width="44.3" height="10.8" fill="#0070C4"/>
<rect x="1403" y="112" width="11" height="10.8" rx="2.5" fill="#0070C4"/>
<circle cx="1329.5" cy="214.1" r="7" fill="#802CA7"/>
<circle cx="1359.6" cy="214.1" r="7" fill="#802CA7"/>
<circle cx="1389.7" cy="214.1" r="7" fill="#802CA7"/>
<text transform="translate(471.8,136.0) scale(1,1.04)" font-size="64" id="L1">Non-annealed</text>
<text transform="translate(471.5,234.7) scale(1,1.04)" font-size="64" id="L2">Annealed 30 min at 530 ºC</text>
<text transform="translate(1418,136.0) scale(1,1.04)" font-size="64" id="L3">Annealed 30 min at 480 ºC</text>
<text transform="translate(1418,234.7) scale(1,1.04)" font-size="64" id="L4">Annealed 60 min at 530 ºC</text>
</g>
<g id="ylabels">
<text transform="translate(134.6,1171.4) scale(0.988,1.06)" font-size="75" class="yl">1·10<tspan font-size="49" dx="2.8" dy="-21.6">-4</tspan></text>
<g transform="translate(134.6,1171.4) scale(0.988,1.06)" fill="#fff"><rect x="70.05" y="-9.75" width="14.12" height="12.38"/><rect x="94.67" y="-9.75" width="12.75" height="12.38"/></g>
<g transform="translate(134.6,1171.4) scale(0.988,1.06)" fill="#fff"><rect x="3.38" y="-9.75" width="14.12" height="12.38"/><rect x="28.00" y="-9.75" width="12.75" height="12.38"/></g>
<text transform="translate(134.6,992.4) scale(0.988,1.06)" font-size="75" class="yl">2·10<tspan font-size="49" dx="2.8" dy="-21.6">-4</tspan></text>
<g transform="translate(134.6,992.4) scale(0.988,1.06)" fill="#fff"><rect x="70.05" y="-9.75" width="14.12" height="12.38"/><rect x="94.67" y="-9.75" width="12.75" height="12.38"/></g>
<text transform="translate(134.6,813.0) scale(0.988,1.06)" font-size="75" class="yl">3·10<tspan font-size="49" dx="2.8" dy="-21.6">-4</tspan></text>
<g transform="translate(134.6,813.0) scale(0.988,1.06)" fill="#fff"><rect x="70.05" y="-9.75" width="14.12" height="12.38"/><rect x="94.67" y="-9.75" width="12.75" height="12.38"/></g>
<text transform="translate(134.6,633.0) scale(0.988,1.06)" font-size="75" class="yl">4·10<tspan font-size="49" dx="2.8" dy="-21.6">-4</tspan></text>
<g transform="translate(134.6,633.0) scale(0.988,1.06)" fill="#fff"><rect x="70.05" y="-9.75" width="14.12" height="12.38"/><rect x="94.67" y="-9.75" width="12.75" height="12.38"/></g>
<text transform="translate(134.6,454.2) scale(0.988,1.06)" font-size="75" class="yl">5·10<tspan font-size="49" dx="2.8" dy="-21.6">-4</tspan></text>
<g transform="translate(134.6,454.2) scale(0.988,1.06)" fill="#fff"><rect x="70.05" y="-9.75" width="14.12" height="12.38"/><rect x="94.67" y="-9.75" width="12.75" height="12.38"/></g>
<text transform="translate(134.6,274.7) scale(0.988,1.06)" font-size="75" class="yl">6·10<tspan font-size="49" dx="2.8" dy="-21.6">-4</tspan></text>
<g transform="translate(134.6,274.7) scale(0.988,1.06)" fill="#fff"><rect x="70.05" y="-9.75" width="14.12" height="12.38"/><rect x="94.67" y="-9.75" width="12.75" height="12.38"/></g>
<text transform="translate(134.6,95.6) scale(0.988,1.06)" font-size="75" class="yl">7·10<tspan font-size="49" dx="2.8" dy="-21.6">-4</tspan></text>
<g transform="translate(134.6,95.6) scale(0.988,1.06)" fill="#fff"><rect x="70.05" y="-9.75" width="14.12" height="12.38"/><rect x="94.67" y="-9.75" width="12.75" height="12.38"/></g>
<text transform="translate(246,1340.3) scale(1,1.06)" font-size="75" id="y0">0</text>
</g>
<g id="xlabels" text-anchor="middle">
<text transform="translate(367.0,1427.4) scale(1,1.05)" font-size="75" class="xl">0</text>
<text transform="translate(742.6,1427.4) scale(1,1.05)" font-size="75" class="xl">1000</text>
<g transform="translate(742.6,1427.4) scale(1,1.05)" fill="#fff"><rect x="-80.03" y="-9.75" width="14.12" height="12.38"/><rect x="-55.40" y="-9.75" width="12.75" height="12.38"/></g>
<text transform="translate(1118.2,1427.4) scale(1,1.05)" font-size="75" class="xl">2000</text>
<text transform="translate(1493.8,1427.4) scale(1,1.05)" font-size="75" class="xl">3000</text>
<text transform="translate(1869.4,1427.4) scale(1,1.05)" font-size="75" class="xl">4000</text>
<text transform="translate(2245.0,1427.4) scale(1,1.05)" font-size="75" class="xl">5000</text>
</g>
<text transform="translate(1192.5,1525.7) scale(1.016,1.055)" font-size="75" id="xtitle"><tspan font-style="italic">H</tspan> (Oe)</text>
<text id="ytitle" transform="translate(107.8,779.5) rotate(-90) scale(1,1.055)" font-size="75" font-style="italic">P(H<tspan font-size="52" dy="18">k</tspan><tspan dy="-18">)</tspan></text>
</svg></body></html>
